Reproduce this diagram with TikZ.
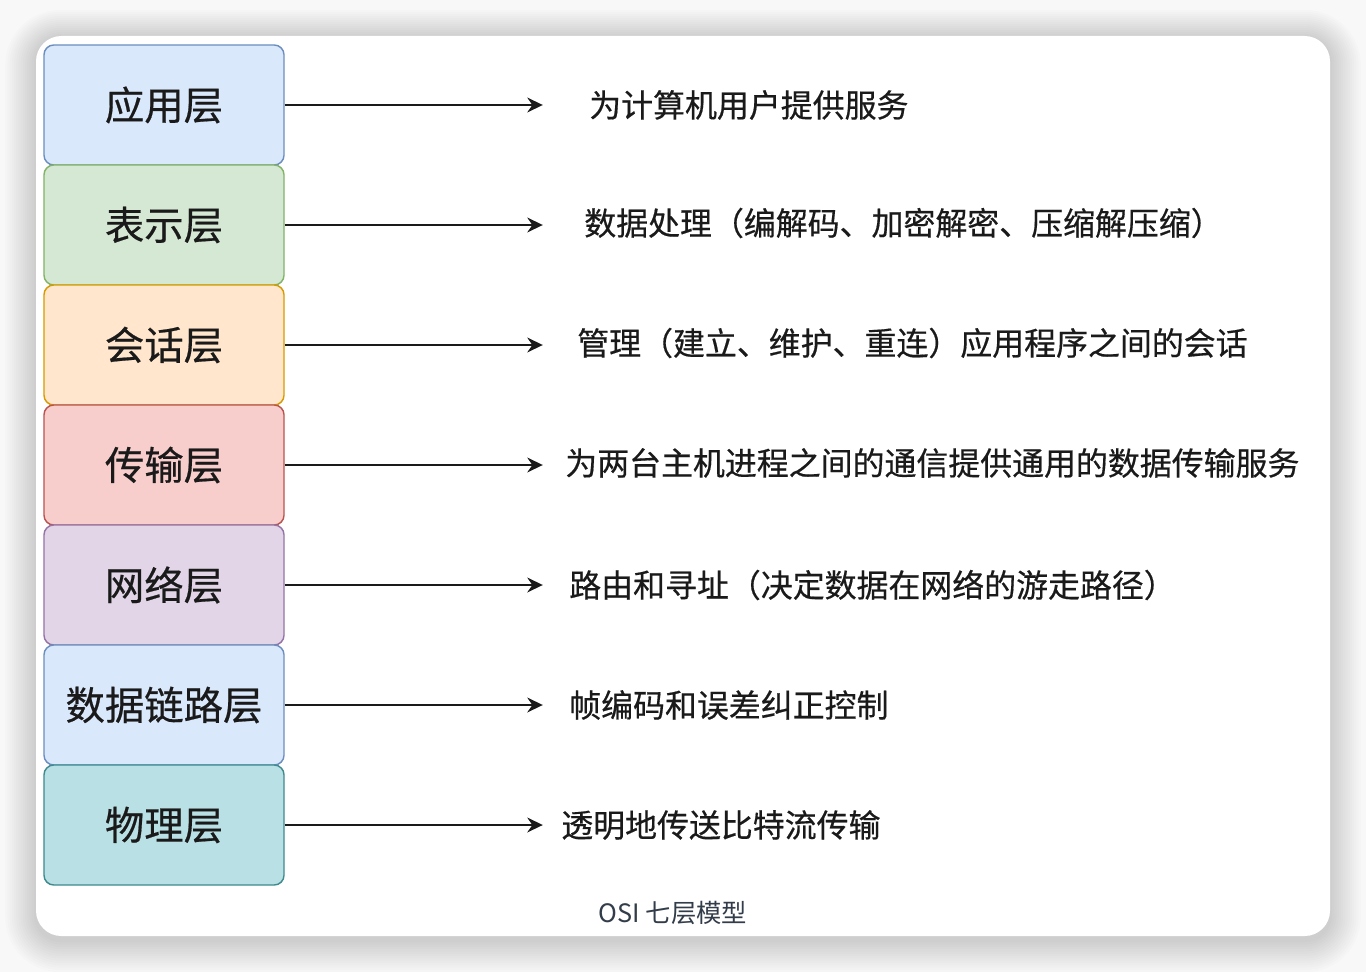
\documentclass[tikz,border=0pt]{standalone}
\usepackage{fontspec}
\setmainfont{Noto Sans CJK SC}
\newfontfamily\cjkdark[FakeBold=0.5]{Noto Sans CJK SC}
\usetikzlibrary{positioning,arrows.meta}
\definecolor{bgout}{HTML}{F8F8F8}
\definecolor{txt}{HTML}{1A1A1A}
\definecolor{cap}{HTML}{333D4A}
\definecolor{blueF}{HTML}{DAE8FC}\definecolor{blueD}{HTML}{6C8EBF}
\definecolor{greenF}{HTML}{D5E8D4}\definecolor{greenD}{HTML}{82B366}
\definecolor{orangeF}{HTML}{FFE6CC}\definecolor{orangeD}{HTML}{D79B00}
\definecolor{redF}{HTML}{F8CECC}\definecolor{redD}{HTML}{B85450}
\definecolor{purpleF}{HTML}{E1D5E7}\definecolor{purpleD}{HTML}{9673A6}
\definecolor{tealF}{HTML}{B9E1E5}\definecolor{tealD}{HTML}{3E8A8F}
\tikzset{
  layer/.style 2 args={draw=#2,fill=#1,line width=1pt,rounded corners=7pt,
    minimum width=6cm,minimum height=3cm,inner sep=0,text=txt,
    font=\cjkdark\fontsize{28}{32}\selectfont},
  desc/.style={anchor=west,inner sep=0,text=txt,font=\cjkdark\fontsize{22.7}{27}\selectfont},
  arr/.style={-{Stealth[length=11pt,width=10.5pt]},line width=1.6pt,draw=txt}
}
\begin{document}
\begin{tikzpicture}[x=0.025cm,y=-0.025cm]
  \useasboundingbox (0,0) rectangle (1366,972);
  \fill[bgout] (0,0) rectangle (1366,972);
  % soft shadow round the card
  \foreach \i in {1,...,14}
    \fill[black,opacity=0.011,rounded corners=18pt+\i*1.5pt]
      (36-\i*2.2,38-\i*2) rectangle (1330+\i*2.2,940+\i*2.3);
  \fill[white,rounded corners=18pt] (36,36) rectangle (1330,936);

  % layers
  \node[layer={blueF}{blueD}]     (app)   at (164,105) {应用层};
  \node[layer={greenF}{greenD}]   (pres)  at (164,225) {表示层};
  \node[layer={orangeF}{orangeD}] (sess)  at (164,345) {会话层};
  \node[layer={redF}{redD}]       (trans) at (164,465) {传输层};
  \node[layer={purpleF}{purpleD}] (net)   at (164,585) {网络层};
  \node[layer={blueF}{blueD}]     (link)  at (164,705) {数据链路层};
  \node[layer={tealF}{tealD}]     (phy)   at (164,825) {物理层};

  % descriptions
  \node[desc] (appd)   at (589,105) {为计算机用户提供服务};
  \node[desc] (presd)  at (584,223) {数据处理（编解码、加密解密、压缩解压缩）};
  \node[desc] (sessd)  at (577,343) {管理（建立、维护、重连）应用程序之间的会话};
  \node[desc] (transd) at (565,463) {为两台主机进程之间的通信提供通用的数据传输服务};
  \node[desc] (netd)   at (569,585) {路由和寻址（决定数据在网络的游走路径）};
  \node[desc] (linkd)  at (569,705) {帧编码和误差纠正控制};
  \node[desc] (phyd)   at (561,825) {透明地传送比特流传输};

  % arrows
  \foreach \l in {app,pres,sess,trans,net,link,phy}{
    \coordinate (\l tip) at ([xshift=6.45cm]\l.east);
    \draw[arr] (\l.east) -- (\l tip);
  }

  \node[text=cap,font=\fontsize{18}{21}\selectfont] (caption) at (673,913) {OSI 七层模型};
\end{tikzpicture}
\end{document}
